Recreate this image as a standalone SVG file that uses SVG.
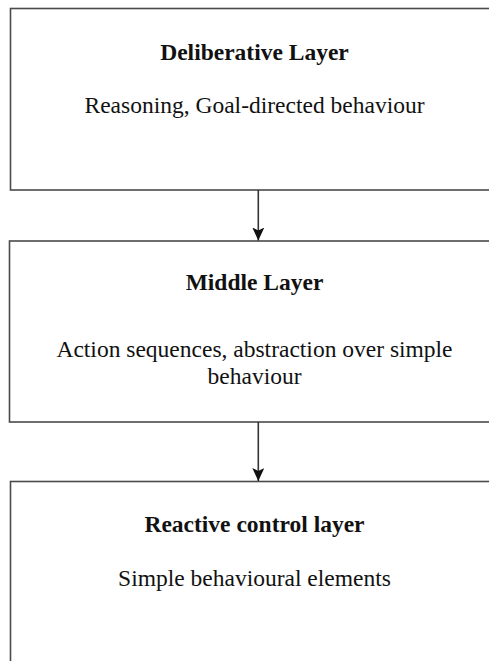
<svg xmlns="http://www.w3.org/2000/svg" width="489" height="661" viewBox="0 0 489 661">
  <style>
    .box { fill: #ffffff; stroke: #4a4a4a; stroke-width: 1.6; }
    .title { font-family: "Liberation Serif", "Times New Roman", serif; font-weight: bold; font-size: 23.5px; fill: #111; text-anchor: middle; }
    .body { font-family: "Liberation Serif", "Times New Roman", serif; font-size: 23.5px; fill: #111; text-anchor: middle; }
    .edge { stroke: #333; stroke-width: 1.6; fill: none; }
  </style>
  <defs>
    <marker id="arrow" markerUnits="userSpaceOnUse" markerWidth="14" markerHeight="12" refX="13" refY="6" orient="auto">
      <path d="M0,0 L13,6 L0,12 L3,6 Z" fill="#111"/>
    </marker>
  </defs>
  <rect width="489" height="661" fill="#ffffff"/>

  <g id="deliberative-layer">
    <rect class="box" x="10.5" y="8.5" width="520" height="181.5"/>
    <text class="title" x="254.5" y="60">Deliberative Layer</text>
    <text class="body" x="254.5" y="113">Reasoning, Goal-directed behaviour</text>
  </g>

  <g id="middle-layer">
    <rect class="box" x="9.5" y="241" width="520" height="181"/>
    <text class="title" x="254.5" y="290">Middle Layer</text>
    <text class="body" x="254.5" y="356.5">Action sequences, abstraction over simple</text>
    <text class="body" x="254.5" y="384">behaviour</text>
  </g>

  <g id="reactive-control-layer">
    <rect class="box" x="10.5" y="481.5" width="520" height="220"/>
    <text class="title" x="254.5" y="531.5">Reactive control layer</text>
    <text class="body" x="254.5" y="586">Simple behavioural elements</text>
  </g>

  <g id="connectors">
    <line class="edge" x1="258.3" y1="190" x2="258.3" y2="240.5" marker-end="url(#arrow)"/>
    <line class="edge" x1="258.3" y1="422" x2="258.3" y2="481" marker-end="url(#arrow)"/>
  </g>
</svg>
